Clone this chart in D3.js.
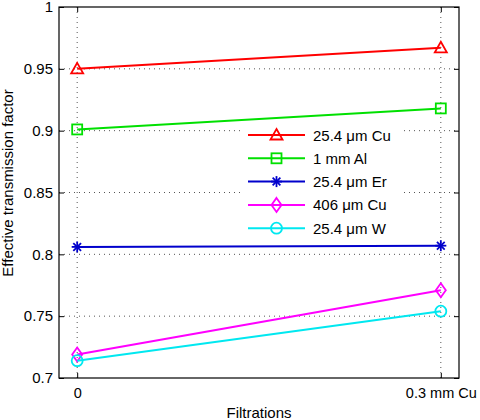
<!DOCTYPE html>
<html><head><meta charset="utf-8">
<script src="https://cdn.jsdelivr.net/npm/d3@7/dist/d3.min.js"></script>
<style>body{margin:0;background:#fff}svg{display:block}</style>
</head><body><svg id="c" width="480" height="420"></svg>
<script>
const categories = ["0", "0.3 mm Cu"];
const seriesNames = ["25.4 \u03bcm Cu", "1 mm Al", "25.4 \u03bcm Er", "406 \u03bcm Cu", "25.4 \u03bcm W"];
const cu25 = [0.950, 0.967];
const al1 = [0.901, 0.918];
const er25 = [0.806, 0.807];
const cu406 = [0.719, 0.771];
const w25 = [0.714, 0.754];
const yTicks = [0.7, 0.75, 0.8, 0.85, 0.9, 0.95, 1];
const yTickLabels = ["0.7", "0.75", "0.8", "0.85", "0.9", "0.95", "1"];

const series = [
  {name: seriesNames[0], values: cu25, color: "#ff0000", marker: "triangle"},
  {name: seriesNames[1], values: al1, color: "#00e000", marker: "square"},
  {name: seriesNames[2], values: er25, color: "#0000cc", marker: "asterisk"},
  {name: seriesNames[3], values: cu406, color: "#ff00ff", marker: "diamond"},
  {name: seriesNames[4], values: w25, color: "#00e8f0", marker: "circle"}
];

const svg = d3.select("#c");
const L = 59, R = 459, T = 7, B = 378;
const x = d3.scaleLinear().domain([-0.05, 1.05]).range([L, R]);
const y = d3.scaleLinear().domain([0.7, 1]).range([B, T]);
const font = "Liberation Sans, Arial, sans-serif";

// gridlines
const g = svg.append("g");
yTicks.forEach(t => {
  if (t > 0.7 && t < 1) g.append("line").attr("x1", L).attr("x2", R).attr("y1", y(t)).attr("y2", y(t))
    .attr("stroke", "#555").attr("stroke-width", 1).attr("stroke-dasharray", "1,4");
});
categories.forEach((c, i) => {
  g.append("line").attr("x1", x(i)).attr("x2", x(i)).attr("y1", T).attr("y2", B)
    .attr("stroke", "#555").attr("stroke-width", 1).attr("stroke-dasharray", "1,4");
});

// axes
const yAxisL = d3.axisLeft(y).tickValues(yTicks).tickFormat((d, i) => yTickLabels[i]).tickSize(-5).tickPadding(6);
const yAxisR = d3.axisRight(y).tickValues(yTicks).tickFormat("").tickSize(-5);
const xAxisB = d3.axisBottom(x).tickValues([0, 1]).tickFormat((d, i) => categories[i]).tickSize(-5).tickPadding(10);
const xAxisT = d3.axisTop(x).tickValues([0, 1]).tickFormat("").tickSize(-5);
function style(sel) {
  sel.select(".domain").remove();
  sel.selectAll("line").attr("stroke", "#000");
  sel.selectAll("text").attr("font-family", font).attr("font-size", 15).attr("fill", "#000");
}
svg.append("g").attr("transform", `translate(${L},0)`).call(yAxisL).call(style);
svg.append("g").attr("transform", `translate(${R},0)`).call(yAxisR).call(style);
svg.append("g").attr("transform", `translate(0,${B})`).call(xAxisB).call(style)
  .selectAll("text").attr("font-size", 14.5);
svg.append("g").attr("transform", `translate(0,${T})`).call(xAxisT).call(style);
svg.append("rect").attr("x", L).attr("y", T).attr("width", R - L).attr("height", B - T)
  .attr("fill", "none").attr("stroke", "#000").attr("stroke-width", 1.2);

function drawMarker(sel, type, cx, cy, color) {
  const s = 6;
  if (type === "triangle") {
    sel.append("path").attr("d", `M${cx},${cy - s} L${cx + s},${cy + s * 0.75} L${cx - s},${cy + s * 0.75} Z`)
      .attr("fill", "none").attr("stroke", color).attr("stroke-width", 1.8);
  } else if (type === "square") {
    sel.append("rect").attr("x", cx - 5).attr("y", cy - 5).attr("width", 10).attr("height", 10)
      .attr("fill", "none").attr("stroke", color).attr("stroke-width", 1.8);
  } else if (type === "diamond") {
    sel.append("path").attr("d", `M${cx},${cy - 7} L${cx + 5},${cy} L${cx},${cy + 7} L${cx - 5},${cy} Z`)
      .attr("fill", "none").attr("stroke", color).attr("stroke-width", 1.8);
  } else if (type === "circle") {
    sel.append("circle").attr("cx", cx).attr("cy", cy).attr("r", 5.5)
      .attr("fill", "none").attr("stroke", color).attr("stroke-width", 1.8);
  } else if (type === "asterisk") {
    const r = 5.5;
    [[0, 1], [1, 0], [0.707, 0.707], [0.707, -0.707]].forEach(([a, b]) => {
      sel.append("line").attr("x1", cx - r * a).attr("y1", cy - r * b).attr("x2", cx + r * a).attr("y2", cy + r * b)
        .attr("stroke", color).attr("stroke-width", 1.8);
    });
  }
}

const line = d3.line().x((d, i) => x(i)).y(d => y(d));
series.forEach(s => {
  svg.append("path").attr("d", line(s.values)).attr("fill", "none").attr("stroke", s.color).attr("stroke-width", 2);
  s.values.forEach((v, i) => drawMarker(svg, s.marker, x(i), y(v), s.color));
});

// legend
const lg = svg.append("g");
lg.append("rect").attr("x", 244).attr("y", 123).attr("width", 156).attr("height", 118).attr("fill", "#fff");
series.forEach((s, i) => {
  const ly = 135 + i * 23.3;
  lg.append("line").attr("x1", 248).attr("x2", 305).attr("y1", ly).attr("y2", ly).attr("stroke", s.color).attr("stroke-width", 2);
  drawMarker(lg, s.marker, 276.5, ly, s.color);
  lg.append("text").attr("x", 313).attr("y", ly + 5.5).attr("font-family", font).attr("font-size", 15).text(s.name);
});

// axis labels
svg.append("text").attr("transform", `translate(13,183) rotate(-90)`).attr("text-anchor", "middle")
  .attr("font-family", font).attr("font-size", 15).text("Effective transmission factor");
svg.append("text").attr("x", 259).attr("y", 418).attr("text-anchor", "middle")
  .attr("font-family", font).attr("font-size", 15).text("Filtrations");
</script></body></html>
